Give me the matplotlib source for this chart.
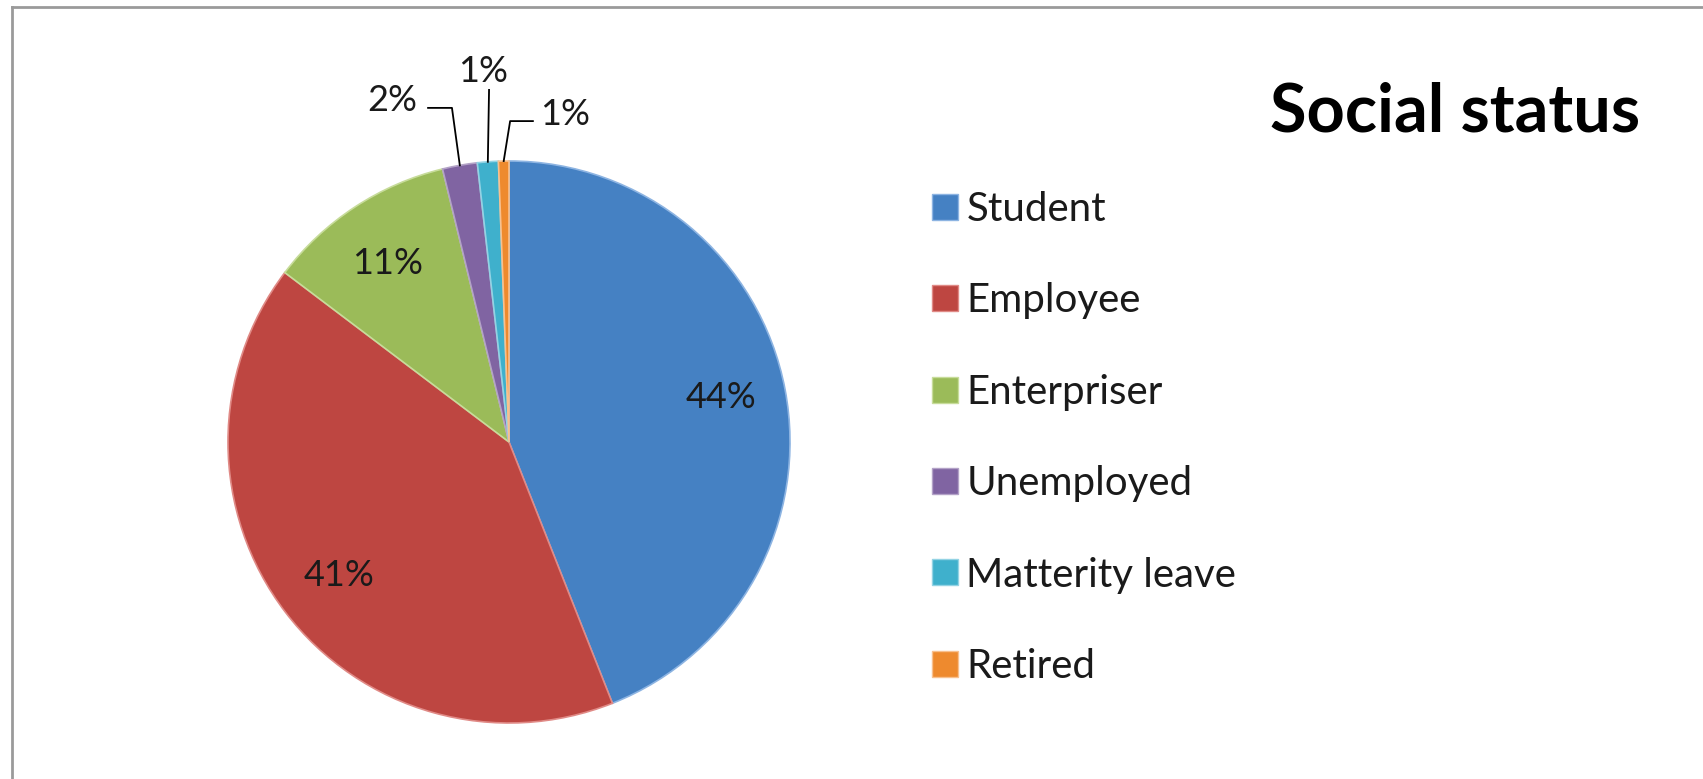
import numpy as np
import matplotlib
matplotlib.use('Agg')
import matplotlib.pyplot as plt
from matplotlib.patches import Patch
from matplotlib.lines import Line2D

plt.rcParams['font.family'] = ['Lato', 'DejaVu Sans']

###########################################################
# Data
###########################################################

categories = ['Student', 'Employee', 'Enterpriser', 'Unemployed',
              'Matterity leave', 'Retired']
shares = [44.0, 41.3, 10.9, 2.0, 1.2, 0.6]
pct_labels = ['44%', '41%', '11%', '2%', '1%', '1%']
colors = ['#4581C3', '#BE4641', '#9BBB59', '#8064A2', '#3FB0CC', '#EE8A2E']
edges = ['#8DB4E2', '#E08A86', '#C7DC9A', '#B3A2C7', '#93D3E4', '#F8C08E']

W, H = 1703, 779
fig = plt.figure(figsize=(W / 100, H / 100), dpi=100)

# pie centre / radius in pixels
cx, cy, r = 509, 442, 281
ax = fig.add_axes([(cx - r) / W, (H - cy - r) / H, 2 * r / W, 2 * r / H])

wedges, _ = ax.pie(shares, colors=colors, startangle=90, counterclock=False,
                   radius=1.0, wedgeprops=dict(linewidth=1.2))
for w, ec in zip(wedges, edges):
    w.set_edgecolor(ec)
ax.set_xlim(-1, 1)
ax.set_ylim(-1, 1)
ax.set_aspect('equal')
ax.axis('off')

lbl_size = 26
# big slices: label inside the wedge
for w, lab in list(zip(wedges, pct_labels))[:3]:
    mid = np.deg2rad((w.theta1 + w.theta2) / 2 + 1)
    ax.text(0.77 * np.cos(mid), 0.77 * np.sin(mid), lab, ha='center', va='center',
            fontsize=lbl_size, color='#1a1a1a')

# small slices: label outside with leader line
text_pos = [(-0.416, 1.217), (-0.093, 1.317), (0.200, 1.164)]
elbows = [(-0.203, 1.189), (-0.071, 1.253), (0.004, 1.142)]
line_start = [(-0.288, 1.189), None, (0.085, 1.142)]
for w, lab, tp, el, ls in zip(wedges[3:], pct_labels[3:], text_pos, elbows, line_start):
    mid = np.deg2rad((w.theta1 + w.theta2) / 2)
    rim = (np.cos(mid), np.sin(mid))
    xs = ([ls[0]] if ls else []) + [el[0], rim[0]]
    ys = ([ls[1]] if ls else []) + [el[1], rim[1]]
    ax.plot(xs, ys, color='black', lw=1.3, clip_on=False)
    ax.text(tp[0], tp[1], lab, ha='center', va='center', fontsize=lbl_size,
            color='#1a1a1a', clip_on=False)

# legend
handles = [Patch(facecolor=c, edgecolor=e) for c, e in zip(colors, edges)]
fig.legend(handles, categories, loc='upper left',
           bbox_to_anchor=(932 / W, 1 - 191 / H), frameon=False,
           fontsize=29, handlelength=0.65, handleheight=0.62, handletextpad=0.2,
           labelspacing=1.35, borderpad=0, borderaxespad=0, labelcolor='#1a1a1a')

# title
fig.text(1270 / W, 1 - 131 / H, 'Social status', fontsize=48, fontweight='bold',
         ha='left', va='baseline', color='black')

# chart frame (left and top edges visible)
fig.add_artist(Line2D([12 / W, 12 / W], [0, 1 - 7 / H], transform=fig.transFigure,
                      color='#9a9a9a', lw=2))
fig.add_artist(Line2D([12 / W, 1], [1 - 7 / H, 1 - 7 / H], transform=fig.transFigure,
                      color='#9a9a9a', lw=2))

plt.savefig('out.png', dpi=100, facecolor='white')
